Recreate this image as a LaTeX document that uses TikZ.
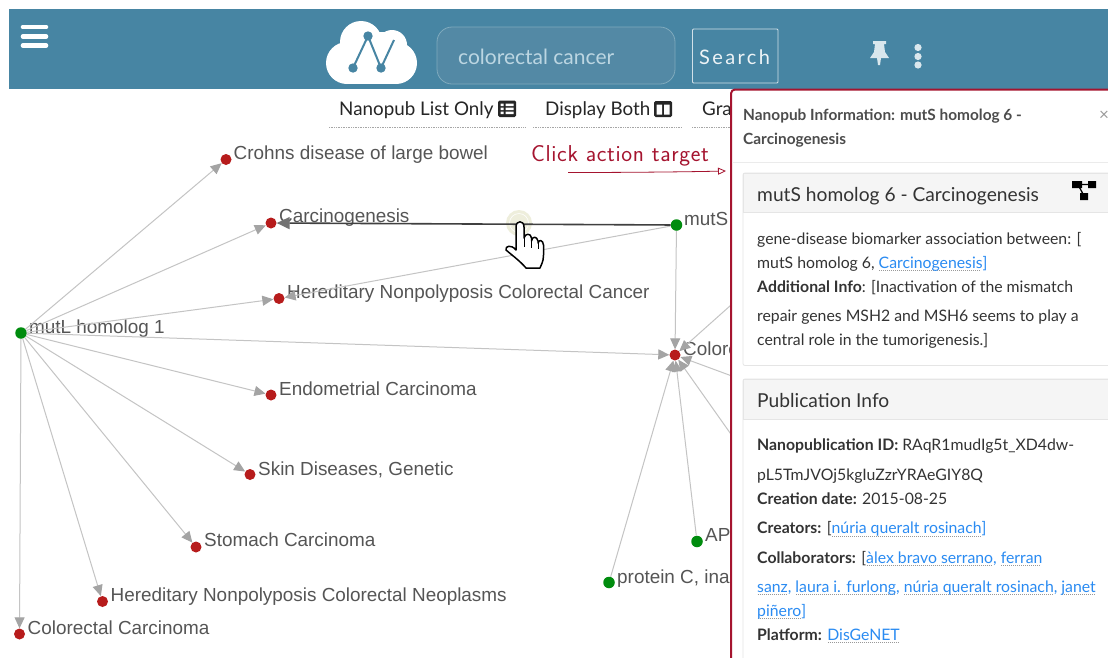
\documentclass[tikz,border=0pt]{standalone}
\usepackage{fontspec}
\setmainfont{Lato}
\newfontfamily\graphfont{Liberation Sans}
\usetikzlibrary{arrows.meta}
\definecolor{teal}{HTML}{4785A3}
\definecolor{boxfill}{HTML}{5389A5}
\definecolor{boxline}{HTML}{7FAABD}
\definecolor{paletxt}{HTML}{BCD6E2}
\definecolor{crimson}{HTML}{A5142F}
\definecolor{lnkblue}{HTML}{2A8BF2}
\definecolor{edgegrey}{HTML}{C4C4C4}
\definecolor{tipgrey}{HTML}{A4A4A4}
\definecolor{labelgrey}{HTML}{555555}
\definecolor{nodered}{HTML}{B71C1C}
\definecolor{nodegreen}{HTML}{008C0E}
\definecolor{bodytxt}{HTML}{333333}
\definecolor{halo}{HTML}{EEEEDC}
\newcommand\lnk[1]{\setbox0=\hbox{\color{lnkblue}#1}\rlap{\raisebox{-3pt}{\hbox to \wd0{\color{black!40}\leaders\hbox to 2pt{\hss\rule{1pt}{.7pt}\hss}\hfill}}}\box0 }
\newcommand\ks{\kern.65pt{}}
\tikzset{
  x=1pt,y=-1pt,
  red dot/.style={circle,fill=nodered,draw=none,minimum size=11pt,inner sep=0pt},
  green dot/.style={circle,fill=nodegreen,draw=none,minimum size=11.5pt,inner sep=0pt},
  glabel/.style={anchor=base west,inner sep=0pt,text=labelgrey,font=\graphfont\fontsize{18.9}{20}\selectfont},
  edge/.style={draw=edgegrey,line width=1pt,-{Triangle[length=11pt,width=10pt,color=tipgrey]}},
  active edge/.style={draw=black!75,line width=1.6pt,-{Triangle[length=13pt,width=12pt,color=black!55]}},
  tool/.style={anchor=base west,inner sep=0pt,text=black!85,font=\fontsize{18.8}{20}\selectfont},
  toolline/.style={draw=black!35,line width=.7pt,densely dotted},
  ptext/.style={anchor=base west,inner sep=0pt,text=bodytxt,font=\fontsize{15.8}{18}\selectfont},
  ptitle/.style={anchor=base west,inner sep=0pt,text=black!70,font=\bfseries\fontsize{15.4}{18}\selectfont},
  chead/.style={anchor=base west,inner sep=0pt,text=bodytxt,font=\fontsize{19.2}{22}\selectfont},
  card/.style={draw=black!10,line width=.8pt,fill=white,rounded corners=2pt},
  headfill/.style={draw=black!10,line width=.8pt,fill=black!4},
}
\begin{document}
\begin{tikzpicture}
\useasboundingbox (0,0) rectangle (1108,657);
\fill[white] (0,0) rectangle (1108,657);
% header
\fill[teal] (9,9) rectangle (1108,89);
\foreach \yy in {27,36.5,45.5}
  \draw[white,line width=4.6pt,line cap=round] (23,\yy) -- (46,\yy);
% logo
\fill[white] (347,63) circle (21) (396,63) circle (21) (361,42) circle (21) (392,45) circle (15);
\fill[white] (347,60) rectangle (396,84);
\fill[white] (361,32) rectangle (392,62);
\draw[teal,line width=2pt] (353,68) -- (368,36) -- (381,68) -- (394,40);
\fill[teal] (368,36) circle (4.7) (353,68) circle (4.7) (381,68) circle (4.7);
% search
\draw[boxline,fill=boxfill,line width=.8pt,rounded corners=15pt] (437,27) rectangle (675,84);
\node[anchor=base west,inner sep=0pt,text=paletxt,font=\fontsize{21}{22}\selectfont] (query) at (458,64) {colorectal cancer};
\draw[white!75!teal,line width=.9pt,rounded corners=1pt] (692.5,29) rectangle (778,83);
\node[anchor=base west,inner sep=0pt,text=white!90!teal,font=\fontsize{20}{22}\selectfont\addfontfeature{LetterSpace=12}] (searchlabel) at (699,64) {Search};
% pin + dots
\fill[white!80!teal] (873,41) -- (886,41) -- (886,44) -- (884,44) -- (885,52) -- (889,58) -- (881,58) -- (880,65) -- (878,65) -- (877,58) -- (870,58) -- (874,52) -- (875,44) -- (873,44) -- cycle;
\fill[white!80!teal] (918,47.5) circle (3.6) (918,56.5) circle (3.6) (918,65) circle (3.6);
% toolbar
\node[tool] (tbList) at (339,115.5) {Nanopub List Only};
\fill[black!85,rounded corners=1.5pt] (498,100.5) rectangle (516,117);
\fill[white] (500.5,103.5) rectangle (503.5,106) (500.5,107.5) rectangle (503.5,110) (500.5,111.5) rectangle (503.5,114);
\fill[white] (505.5,103.5) rectangle (513.5,106) (505.5,107.5) rectangle (513.5,110) (505.5,111.5) rectangle (513.5,114);
\draw[toolline] (329,127) -- (525,127);
\node[tool] (tbBoth) at (545,115.5) {Display Both};
\fill[black!85,rounded corners=1.5pt] (654,101) rectangle (672,117);
\fill[white] (656.5,104.5) rectangle (662,114.5) (664,104.5) rectangle (669.5,114.5);
\draw[toolline] (533,127) -- (682,127);
\node[tool] (tbGraph) at (702,115.5) {Gra};
\draw[toolline] (692,127) -- (732,127);
% graph nodes
\node[green dot] (mutL) at (21,333) {};
\node[green dot] (mutS) at (676.5,225) {};
\node[green dot] (apc) at (697,541.5) {};
\node[green dot] (protC) at (609,582.5) {};
\node[red dot] (crohn) at (226,159.5) {};
\node[red dot] (carcino) at (271,223) {};
\node[red dot] (hnpcc) at (279,298.5) {};
\node[red dot] (crc) at (675,355) {};
\node[red dot] (endo) at (271,395) {};
\node[red dot] (skin) at (250,474.5) {};
\node[red dot] (stomach) at (196,547) {};
\node[red dot] (hnpcn) at (102.5,601.5) {};
\node[red dot] (carcinoma) at (19.5,634) {};
\coordinate (offA) at (740,297);
\coordinate (offB) at (740,379);
\coordinate (offC) at (740,447);
% graph labels
\node[glabel] (lCrohn) at (233.5,159.5) {Crohns disease of large bowel};
\node[glabel] (lCarcino) at (279,222.5) {Carcinogenesis};
\node[glabel] (lHnpcc) at (287,298.5) {Hereditary Nonpolyposis Colorectal Cancer};
\node[glabel] (lMutL) at (29,333.5) {mutL homolog 1};
\node[glabel] (lEndo) at (279,395.5) {Endometrial Carcinoma};
\node[glabel] (lSkin) at (258,475) {Skin Diseases, Genetic};
\node[glabel] (lStomach) at (204,546.5) {Stomach Carcinoma};
\node[glabel] (lHnpcn) at (110.5,601.5) {Hereditary Nonpolyposis Colorectal Neoplasms};
\node[glabel] (lCarcinoma) at (27.5,634.5) {Colorectal Carcinoma};
\node[glabel] (lMutS) at (684,225.5) {mutS};
\node[glabel] (lCrc) at (683,355) {Colorec};
\node[glabel] (lApc) at (705,541.5) {AP};
\node[glabel] (lProt) at (617,583) {protein C, ina};
% edges
\foreach \tgt in {crohn,carcino,hnpcc,crc,endo,skin,stomach,hnpcn,carcinoma}
  \draw[edge] (mutL) -- (\tgt);
\draw[edge] (mutS) -- (hnpcc);
\draw[edge] (mutS) -- (crc);
\draw[edge] (apc) -- (crc);
\draw[edge] (protC) -- (crc);
\draw[edge] (offA) -- (crc);
\draw[edge] (offB) -- (crc);
\draw[edge] (offC) -- (crc);
% halo
\fill[halo] (519,223) circle (13);
\draw[white,line width=.6pt] (519,223) circle (9.5);
\draw[active edge] (mutS) -- (carcino);
% hand
\draw[black,line width=1.5pt,fill=white,line join=round]
  (516,250) -- (516,227) .. controls (516,220) and (524,220) .. (524,227)
  -- (524,238) .. controls (525,233) and (531,233) .. (531.5,238)
  -- (531.5,241) .. controls (532,236) and (537,236) .. (538,241)
  -- (538,243) .. controls (539,239) and (543,240) .. (543.5,245)
  -- (543.5,255) .. controls (543.5,262) and (541,265) .. (540,268)
  -- (526,268) .. controls (520,261) and (513,256) .. (506,250)
  .. controls (505,246) and (511,244) .. (516,250) -- cycle;
\draw[black,line width=1pt] (524,238) -- (524,247) (531.5,241) -- (531.5,248) (538,243) -- (538,249);
% annotation
\node[anchor=base west,inner sep=0pt,text=crimson,font=\sffamily\fontsize{23}{24}\selectfont] (clickLabel) at (531,161) {C\ks l\ks i\ks c\ks k\ks\ a\ks c\ks t\ks i\ks o\ks n\ks\ t\ks a\ks r\ks g\ks e\ks t};
\coordinate (clickStart) at (568,172.5);
\coordinate (clickEnd) at (726,171);
\draw[crimson,line width=.8pt,-{Triangle[open,length=8pt,width=7pt]}] (clickStart) .. controls (620,172.5) and (680,172) .. (clickEnd);
% panel
\draw[crimson,line width=2pt,fill=white,rounded corners=4pt] (731,89.5) rectangle (1125,680);
\node[ptitle] (pt1) at (743,120.5) {Nanopub Information: mutS homolog 6 -};
\node[ptitle] (pt2) at (743,144.5) {Carcinogenesis};
\node[anchor=base west,inner sep=0pt,text=black!40,font=\fontsize{17}{18}\selectfont] (closeX) at (1099,120.5) {×};
\draw[black!8,line width=1pt] (732,162) -- (1108,162);
% card 1
\draw[card] (743,173) rectangle (1120,365.5);
\draw[headfill] (743,173) rectangle (1120,212.5);
\node[chead] (c1h) at (757,201) {mutS homolog 6 - Carcinogenesis};
\draw[black,line width=1.3pt] (1078,184.5) -- (1092,184.5) (1078,184.5) -- (1084,196);
\fill[black] (1072,181) rectangle (1082,188) (1088,181) rectangle (1096,188) (1080,193) rectangle (1088,200);
\node[ptext] (b1) at (757,244) {gene-disease biomarker association between: [};
\node[ptext] (b2) at (757,268) {mutS homolog 6, \lnk{Carcinogenesis}]};
\node[ptext] (b3) at (757,292) {\textbf{Additional Info}: [Inactivation of the mismatch};
\node[ptext] (b4) at (757,321.5) {repair genes MSH2 and MSH6 seems to play a};
\node[ptext] (b5) at (757,345.5) {central role in the tumorigenesis.]};
% card 2
\draw[card] (743,379) rectangle (1120,680);
\draw[headfill] (743,379) rectangle (1120,419);
\node[chead] (c2h) at (757,407) {Publication Info};
\node[ptext] (p1) at (757,450.5) {\textbf{Nanopublication ID:} RAqR1mudIg5t\_XD4dw-};
\node[ptext] (p2) at (757,480) {pL5TmJVOj5kgIuZzrYRAeGIY8Q};
\node[ptext] (p3) at (757,504) {\textbf{Creation date:} 2015-08-25};
\node[ptext] (p4) at (757,533.5) {\textbf{Creators:} [\lnk{núria queralt rosinach}]};
\node[ptext] (p5) at (757,563) {\textbf{Collaborators:} [\lnk{àlex bravo serrano}, \lnk{ferran}};
\node[ptext] (p6) at (757,592) {\lnk{sanz}, \lnk{laura i. furlong}, \lnk{núria queralt rosinach}, \lnk{janet}};
\node[ptext] (p7) at (757,616) {\lnk{piñero}]};
\node[ptext] (p8) at (757,640) {\textbf{Platform:} \lnk{DisGeNET}};
\end{tikzpicture}
\end{document}
